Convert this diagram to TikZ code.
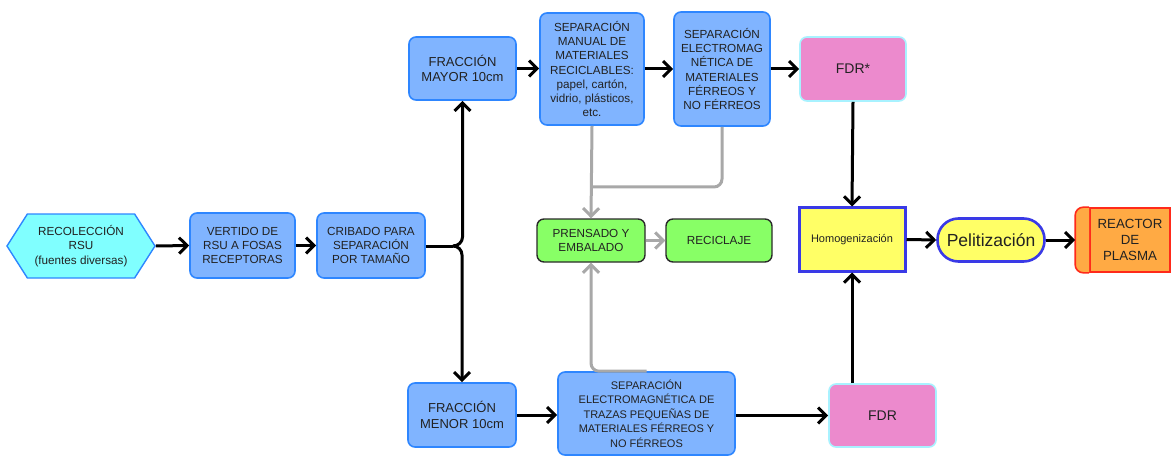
\documentclass[tikz,border=0pt]{standalone}
\usepackage{fontspec}
\setmainfont{Liberation Sans}
\usetikzlibrary{arrows.meta,shapes.symbols,calc}
\definecolor{bluefill}{HTML}{80B4FF}
\definecolor{blueedge}{HTML}{2E86FF}
\definecolor{cyanfill}{HTML}{80FFFF}
\definecolor{pinkfill}{HTML}{EC8ACD}
\definecolor{pinkedge}{HTML}{A8F2FF}
\definecolor{yelfill}{HTML}{FFFF66}
\definecolor{yeledge}{HTML}{3A3AE6}
\definecolor{greenfill}{HTML}{88FF66}
\definecolor{greenedge}{HTML}{2A2A2A}
\definecolor{orfill}{HTML}{FFAA44}
\definecolor{oredge}{HTML}{FF2A1A}
\definecolor{txt}{HTML}{222222}
\definecolor{grayline}{HTML}{A8A8A8}
\begin{document}
\begin{tikzpicture}[x=1pt,y=1pt,
  box/.style={draw, rounded corners=7, inner sep=0pt, align=center, text=txt, line width=1.6pt},
  bluebox/.style={box, fill=bluefill, draw=blueedge},
  pinkbox/.style={box, fill=pinkfill, draw=pinkedge, font=\fontsize{14}{16}\selectfont},
  greenbox/.style={box, fill=greenfill, draw=greenedge, line width=1.4pt},
  fa/.style={font=\fontsize{11.7}{14.2}\selectfont},
  fb/.style={font=\fontsize{13}{15.7}\selectfont},
  fc/.style={font=\fontsize{11}{14.4}\selectfont},
  arr/.style={line width=3pt, draw=black, -{Straight Barb[length=8pt,width=16pt]}},
  garr/.style={line width=3pt, draw=grayline, rounded corners=8, -{Straight Barb[length=8pt,width=16pt]}},
  gline/.style={line width=3pt, draw=grayline, rounded corners=8}
]
\useasboundingbox (0,0) rectangle (1172,-457);

% nodes
\node[signal, signal to=west and east, signal pointer angle=115, minimum width=148, minimum height=64,
      fill=cyanfill, draw=blueedge, line width=1.4pt, inner sep=0pt, align=center, text=txt, fa]
  (rec) at (81,-246) {RECOLECCIÓN\\RSU\\(fuentes diversas)};
\node[bluebox, fa, minimum width=105, minimum height=65] (vert) at (242.5,-245.5) {VERTIDO DE\\RSU A FOSAS\\RECEPTORAS};
\node[bluebox, fa, minimum width=108, minimum height=65] (crib) at (371,-245.5) {CRIBADO PARA\\SEPARACIÓN\\POR TAMAÑO};
\node[bluebox, fb, minimum width=107, minimum height=63] (mayor) at (462.5,-68.5) {FRACCIÓN\\MAYOR 10cm};
\node[bluebox, fa, minimum width=104, minimum height=112] (manual) at (592,-69) {SEPARACIÓN\\MANUAL DE\\MATERIALES\\RECICLABLES:\\papel, cartón,\\vidrio, plásticos,\\etc.};
\node[bluebox, fa, minimum width=96, minimum height=114] (electro) at (722,-69) {SEPARACIÓN\\ELECTROMAG\\NÉTICA DE\\MATERIALES\\FÉRREOS Y\\NO FÉRREOS};
\node[pinkbox, minimum width=106, minimum height=64] (fdrs) at (853,-69) {FDR*};
\node[draw=yeledge, fill=yelfill, line width=3pt, inner sep=0pt, text=txt, font=\fontsize{11}{13}\selectfont,
      minimum width=106, minimum height=63] (homog) at (852,-239.5) {Homogenización};
\node[draw=yeledge, fill=yelfill, line width=2.6pt, rounded corners=21, inner sep=0pt, text=txt,
      font=\fontsize{17.5}{20}\selectfont, minimum width=107, minimum height=43] (pel) at (991,-240) {Pelitización};
\node[draw=oredge, fill=orfill, line width=1.6pt, inner sep=0pt, align=center, text=txt,
      font=\fontsize{13.3}{16}\selectfont, minimum width=80, minimum height=64] (reactor) at (1130,-240) {REACTOR\\DE\\PLASMA};
\draw[fill=orfill, draw=oredge, line width=1.6pt, rounded corners=8] (reactor.north west) -- ++(-14,0) -- ([xshift=-14]reactor.south west) -- (reactor.south west);
\coordinate (rin) at ([xshift=-14]reactor.west);
\node[greenbox, fa, minimum width=108, minimum height=43] (prens) at (591,-240.5) {PRENSADO Y\\EMBALADO};
\node[greenbox, fa, minimum width=106, minimum height=43] (recic) at (719,-240.5) {RECICLAJE};
\node[bluebox, fb, minimum width=108, minimum height=64] (menor) at (462,-415) {FRACCIÓN\\MENOR 10cm};
\node[bluebox, fc, minimum width=177, minimum height=83] (trazas) at (646.5,-413.5) {SEPARACIÓN\\ELECTROMAGNÉTICA DE\\TRAZAS PEQUEÑAS DE\\MATERIALES FÉRREOS Y\\NO FÉRREOS};
\node[pinkbox, minimum width=107, minimum height=63] (fdr) at (882.5,-415.5) {FDR};

% gray connectors
\coordinate (gj) at (592,-187);
\draw[gline] (electro.south) |- (gj);
\draw[garr] (manual.south) -- (prens.north);
\draw[garr] (trazas.north) -| (prens.south);
\draw[garr, rounded corners=0] (prens.east) -- (recic.west);

% black connectors
\draw[arr] (rec.east) -- (vert.west);
\draw[arr] (vert.east) -- (crib.west);
\coordinate (bt) at (453,-246);
\draw[line width=3pt] (crib.east |- bt) -- (bt);
\draw[arr] (bt) to[out=0,in=-90] ($(bt -| mayor.south)+(0,9)$) -- (mayor.south);
\draw[arr] (bt) to[out=0,in=90] ($(bt -| menor.north)+(0,-9)$) -- (menor.north);
\draw[arr] (mayor.east) -- (manual.west |- mayor.east);
\draw[arr] (manual.east) -- (electro.west |- manual.east);
\draw[arr] (electro.east) -- (fdrs.west);
\draw[arr] (fdrs.south) -- (homog.north);
\draw[arr] (fdr.north -| homog.south) -- (homog.south);
\draw[arr] (homog.east) -- (pel.west);
\draw[arr] (pel.east) -- (rin);
\draw[arr] (menor.east) -- (trazas.west |- menor.east);
\draw[arr] (trazas.east |- fdr.west) -- (fdr.west);
\end{tikzpicture}
\end{document}
